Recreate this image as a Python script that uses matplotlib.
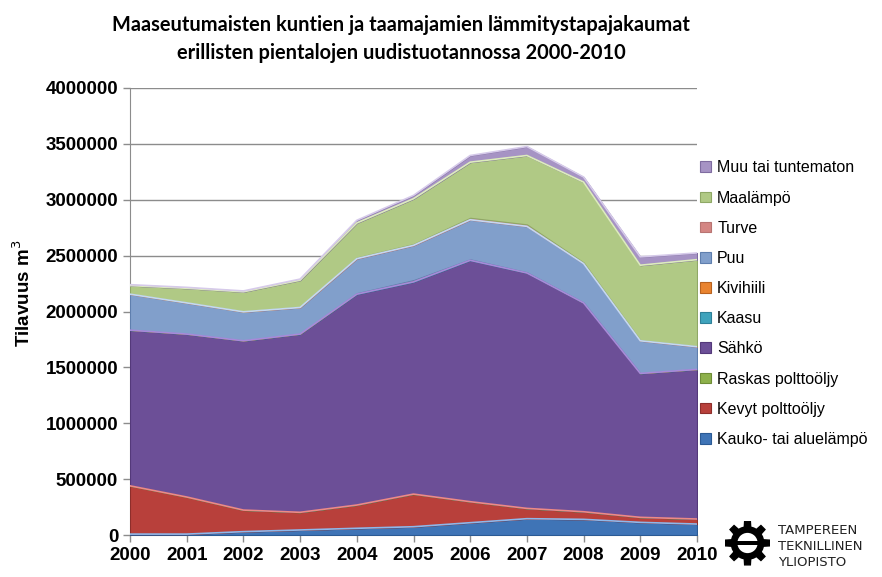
import matplotlib
matplotlib.use("Agg")
import matplotlib.pyplot as plt
from matplotlib.patches import Polygon, Circle, Rectangle
import numpy as np

years = [2000, 2001, 2002, 2003, 2004, 2005, 2006, 2007, 2008, 2009, 2010]
series_names = ["Kauko- tai aluelämpö", "Kevyt polttoöljy", "Raskas polttoöljy", "Sähkö",
                "Kaasu", "Kivihiili", "Puu", "Turve", "Maalämpö", "Muu tai tuntematon"]
kauko = [8000, 8000, 30000, 45000, 60000, 74000, 110000, 146000, 140000, 113000, 98000]
kevyt = [432000, 332000, 193000, 158000, 208000, 292000, 188000, 92000, 68000, 45000, 45000]
raskas = [3000, 3000, 2000, 2000, 2000, 2000, 2000, 1000, 1000, 1000, 1000]
sahko = [1390000, 1455000, 1513000, 1593000, 1885000, 1897000, 2158000, 2106000, 1868000, 1287000, 1338000]
kaasu = [2000, 2000, 2000, 3000, 8000, 15000, 8000, 5000, 3000, 2000, 2000]
kivihiili = [1000, 1000, 1000, 1000, 1000, 1000, 1000, 1000, 1000, 1000, 1000]
puu = [319000, 276000, 256000, 234000, 309000, 311000, 354000, 411000, 348000, 289000, 200000]
turve = [3000, 3000, 3000, 5000, 10000, 12000, 18000, 18000, 10000, 5000, 5000]
maalampo = [74000, 128000, 176000, 239000, 309000, 405000, 497000, 616000, 719000, 671000, 774000]
muu = [8000, 8000, 8000, 10000, 24000, 30000, 60000, 80000, 45000, 75000, 60000]
yticks = [0, 500000, 1000000, 1500000, 2000000, 2500000, 3000000, 3500000, 4000000]

data = [kauko, kevyt, raskas, sahko, kaasu, kivihiili, puu, turve, maalampo, muu]
colors = ["#3F74B6", "#B8403B", "#8DB04B", "#6C4F97", "#3FA3BC", "#E9832F",
          "#819FCB", "#D48683", "#B0C985", "#A693C4"]
edges = ["#2B5A94", "#8E2E2B", "#6E8C37", "#54397A", "#2E8098", "#B8621F",
         "#5F7FAE", "#B87472", "#8FA866", "#7F6CA0"]
highlights = ["#8DB8EC", "#EE8A86", None, "#A88ADA", None, None,
              "#C4D8F2", None, "#DDEDBC", "#D6CAEA"]

fig = plt.figure(figsize=(8.82, 5.77), dpi=100)
ax = fig.add_axes([130/882, 1-535/577, (697-130)/882, (535-88)/577])

x = np.array(years)
base = np.zeros(len(years))
handles = []
for name, vals, c, e, h in zip(series_names, data, colors, edges, highlights):
    top = base + np.array(vals)
    ax.fill_between(x, base, top, facecolor=c, edgecolor=e, linewidth=0.8, zorder=3)
    if h is not None:
        ax.plot(x, top, color=h, linewidth=1.2, zorder=4)
    base = top
    handles.append(Rectangle((0, 0), 1, 1, facecolor=c, edgecolor=e, linewidth=0.8))

ax.set_xlim(2000, 2010)
ax.set_ylim(0, 4000000)
ax.set_yticks(yticks)
ax.set_yticklabels([str(v) for v in yticks])
ax.set_xticks(years)
ax.set_xticklabels([str(y) for y in years])
ax.grid(axis="y", color="#8C8C8C", linewidth=1.0, zorder=0)
ax.set_axisbelow(True)
for s in ["top", "right"]:
    ax.spines[s].set_visible(False)
for s in ["left", "bottom"]:
    ax.spines[s].set_color("#8C8C8C")
ax.tick_params(axis="both", direction="out", length=5, color="#8C8C8C", width=1)
for lab in ax.get_xticklabels() + ax.get_yticklabels():
    lab.set_fontfamily("Liberation Sans")
    lab.set_fontweight("bold")
    lab.set_fontsize(13.5)
ax.set_ylabel("Tilavuus m$^3$", fontfamily="Liberation Sans", fontweight="bold", fontsize=13.5)
ax.yaxis.set_label_coords(-0.17, 0.54)

fig.text(0.455, 1-25/577, "Maaseutumaisten kuntien ja taamajamien lämmitystapajakaumat",
         ha="center", va="center", fontsize=14.4, fontweight="bold", fontfamily="Lato")
fig.text(0.455, 1-53/577, "erillisten pientalojen uudistuotannossa 2000-2010",
         ha="center", va="center", fontsize=14.4, fontweight="bold", fontfamily="Lato")

leg = fig.legend(handles[::-1], series_names[::-1], loc="upper left",
                 bbox_to_anchor=(686/882, 1-146/577), frameon=False,
                 prop={"family": "Liberation Sans", "size": 11.5},
                 handlelength=0.65, handleheight=0.65, handletextpad=0.4, labelspacing=0.95)

# Logo (gear + text)
lax = fig.add_axes([725/882, 1-568/577, 45/882, 50/577])
lax.set_xlim(-1, 1)
lax.set_ylim(-1, 1)
lax.set_aspect("equal")
lax.axis("off")
n_teeth = 8
pts = []
for i in range(n_teeth):
    a0 = 2*np.pi*i/n_teeth
    for da, r in [(-0.2, 0.72), (-0.13, 0.98), (0.13, 0.98), (0.2, 0.72), (0.39, 0.72)]:
        pts.append((r*np.cos(a0+da), r*np.sin(a0+da)))
lax.add_patch(Polygon(pts, closed=True, facecolor="black", edgecolor="black"))
lax.add_patch(Circle((0, 0), 0.45, facecolor="white", edgecolor="none"))
lax.add_patch(Rectangle((-0.75, -0.09), 1.5, 0.18, facecolor="black"))
for i, t in enumerate(["TAMPEREEN", "TEKNILLINEN", "YLIOPISTO"]):
    fig.text(778/882, 1-(531+i*16)/577, t, ha="left", va="center", fontsize=9.5,
             fontfamily="DejaVu Sans", color="#222222")

fig.savefig("out.png", dpi=100)
